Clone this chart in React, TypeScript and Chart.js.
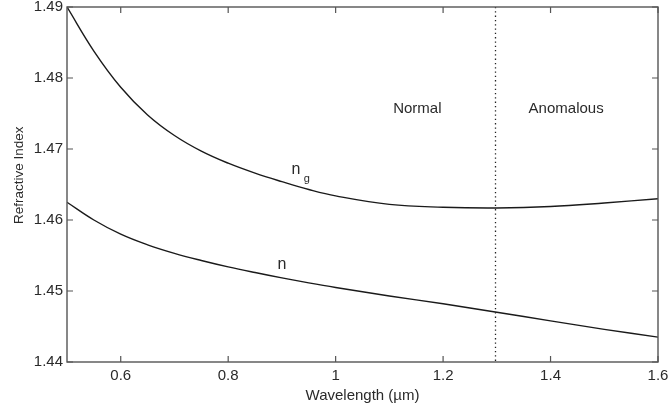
import React, { useEffect, useRef } from "react";
import { Chart, registerables } from "chart.js";

Chart.register(...registerables);

const wavelengths = [0.5, 0.55, 0.6, 0.65, 0.7, 0.75, 0.8, 0.85, 0.9, 0.95, 1.0, 1.1, 1.2, 1.3, 1.4, 1.5, 1.6];
const groupIndex = [1.49, 1.4838, 1.4787, 1.4748, 1.4719, 1.4697, 1.468, 1.4666, 1.4654, 1.4643, 1.4634, 1.4622, 1.4618, 1.4617, 1.4619, 1.4624, 1.463];
const refIndex = [1.4625, 1.46, 1.458, 1.4565, 1.4553, 1.4543, 1.4534, 1.4526, 1.45185, 1.45115, 1.4505, 1.4493, 1.4482, 1.447, 1.4458, 1.4446, 1.4435];
const xTicks = [0.6, 0.8, 1.0, 1.2, 1.4, 1.6];
const yTicks = [1.44, 1.45, 1.46, 1.47, 1.48, 1.49];
const zeroDispersion = 1.297;
const xTitle = "Wavelength (µm)";
const yTitle = "Refractive Index";
const regionLabels = [
  { text: "Normal", x: 1.152, y: 1.4757 },
  { text: "Anomalous", x: 1.429, y: 1.4757 },
];
const curveLabels = [
  { text: "n", sub: "g", x: 0.926, y: 1.4671 },
  { text: "n", sub: "", x: 0.9, y: 1.4537 },
];

const FONT = "'Liberation Sans', Arial, Helvetica, sans-serif";
const TEXT = "#2a2a2a";
const AXIS = "#555555";

const overlay = {
  id: "overlay",
  afterDraw(chart: any) {
    const { ctx, chartArea: a, scales } = chart;
    const xs = scales.x;
    const ys = scales.y;
    ctx.save();
    // dotted vertical line
    const dx = Math.round(xs.getPixelForValue(zeroDispersion)) + 0.5;
    ctx.strokeStyle = "#222";
    ctx.lineWidth = 1.3;
    ctx.setLineDash([1.3, 3]);
    ctx.beginPath();
    ctx.moveTo(dx, a.top);
    ctx.lineTo(dx, a.bottom);
    ctx.stroke();
    ctx.setLineDash([]);

    // frame
    ctx.strokeStyle = AXIS;
    ctx.lineWidth = 1.4;
    ctx.strokeRect(a.left, a.top, a.right - a.left, a.bottom - a.top);

    // inward ticks
    const tl = 6;
    ctx.lineWidth = 1.2;
    ctx.beginPath();
    xTicks.forEach((v) => {
      const px = xs.getPixelForValue(v);
      ctx.moveTo(px, a.bottom);
      ctx.lineTo(px, a.bottom - tl);
      ctx.moveTo(px, a.top);
      ctx.lineTo(px, a.top + tl);
    });
    yTicks.forEach((v) => {
      const py = ys.getPixelForValue(v);
      ctx.moveTo(a.left, py);
      ctx.lineTo(a.left + tl, py);
      ctx.moveTo(a.right, py);
      ctx.lineTo(a.right - tl, py);
    });
    ctx.stroke();

    // texts
    ctx.fillStyle = TEXT;
    ctx.textAlign = "center";
    ctx.textBaseline = "middle";
    ctx.font = `15px ${FONT}`;
    regionLabels.forEach((l) => {
      ctx.fillText(l.text, xs.getPixelForValue(l.x), ys.getPixelForValue(l.y));
    });
    curveLabels.forEach((l) => {
      const px = xs.getPixelForValue(l.x);
      const py = ys.getPixelForValue(l.y);
      ctx.font = `16px ${FONT}`;
      ctx.fillText(l.text, px, py);
      if (l.sub) {
        ctx.font = `11px ${FONT}`;
        ctx.fillText(l.sub, px + 11, py + 9);
      }
    });

    // y title
    ctx.save();
    ctx.translate(19, ys.getPixelForValue(1.4663));
    ctx.rotate(-Math.PI / 2);
    ctx.font = `13.5px ${FONT}`;
    ctx.fillText(yTitle, 0, 0);
    ctx.restore();

    ctx.restore();
  },
};

export default function App() {
  const ref = useRef<HTMLCanvasElement | null>(null);
  useEffect(() => {
    document.body.style.margin = "0";
    const canvas = ref.current;
    if (!canvas) return;
    const chart = new Chart(canvas, {
      type: "scatter",
      data: {
        datasets: [
          {
            label: "ng",
            data: wavelengths.map((w, i) => ({ x: w, y: groupIndex[i] })),
            showLine: true,
            borderColor: "#1a1a1a",
            borderWidth: 1.4,
            pointRadius: 0,
            tension: 0.4,
          },
          {
            label: "n",
            data: wavelengths.map((w, i) => ({ x: w, y: refIndex[i] })),
            showLine: true,
            borderColor: "#1a1a1a",
            borderWidth: 1.4,
            pointRadius: 0,
            tension: 0.4,
          },
        ],
      },
      options: {
        responsive: false,
        animation: false,
        events: [],
        layout: { padding: { top: 7, right: 13, bottom: 0, left: 0 } },
        plugins: { legend: { display: false }, tooltip: { enabled: false } },
        scales: {
          x: {
            type: "linear",
            min: 0.5,
            max: 1.6,
            afterBuildTicks: (s: any) => {
              s.ticks = xTicks.map((v) => ({ value: v }));
            },
            afterFit: (s: any) => {
              s.height = 49;
              s.paddingLeft = 0;
              s.paddingRight = 0;
            },
            grid: { display: true, drawOnChartArea: false, drawTicks: false },
            border: { display: false },
            ticks: {
              padding: 5,
              color: TEXT,
              font: { family: FONT, size: 15 },
              maxRotation: 0,
              autoSkip: false,
              callback: (v: any) => String(Math.round(Number(v) * 10) / 10),
            },
            title: {
              display: true,
              text: xTitle,
              color: TEXT,
              font: { family: FONT, size: 15 },
              padding: { top: 6, bottom: 6 },
            },
          },
          y: {
            type: "linear",
            min: 1.44,
            max: 1.49,
            afterBuildTicks: (s: any) => {
              s.ticks = yTicks.map((v) => ({ value: v }));
            },
            afterFit: (s: any) => {
              s.width = 67;
              s.paddingTop = 0;
              s.paddingBottom = 0;
            },
            grid: { display: true, drawOnChartArea: false, drawTicks: false },
            border: { display: false },
            ticks: {
              padding: 4,
              color: TEXT,
              font: { family: FONT, size: 15 },
              autoSkip: false,
              callback: (v: any) => Number(v).toFixed(2),
            },
          },
        },
      },
      plugins: [overlay],
    });
    return () => chart.destroy();
  }, []);
  return <canvas ref={ref} width={671} height={411} style={{ display: "block" }} />;
}
